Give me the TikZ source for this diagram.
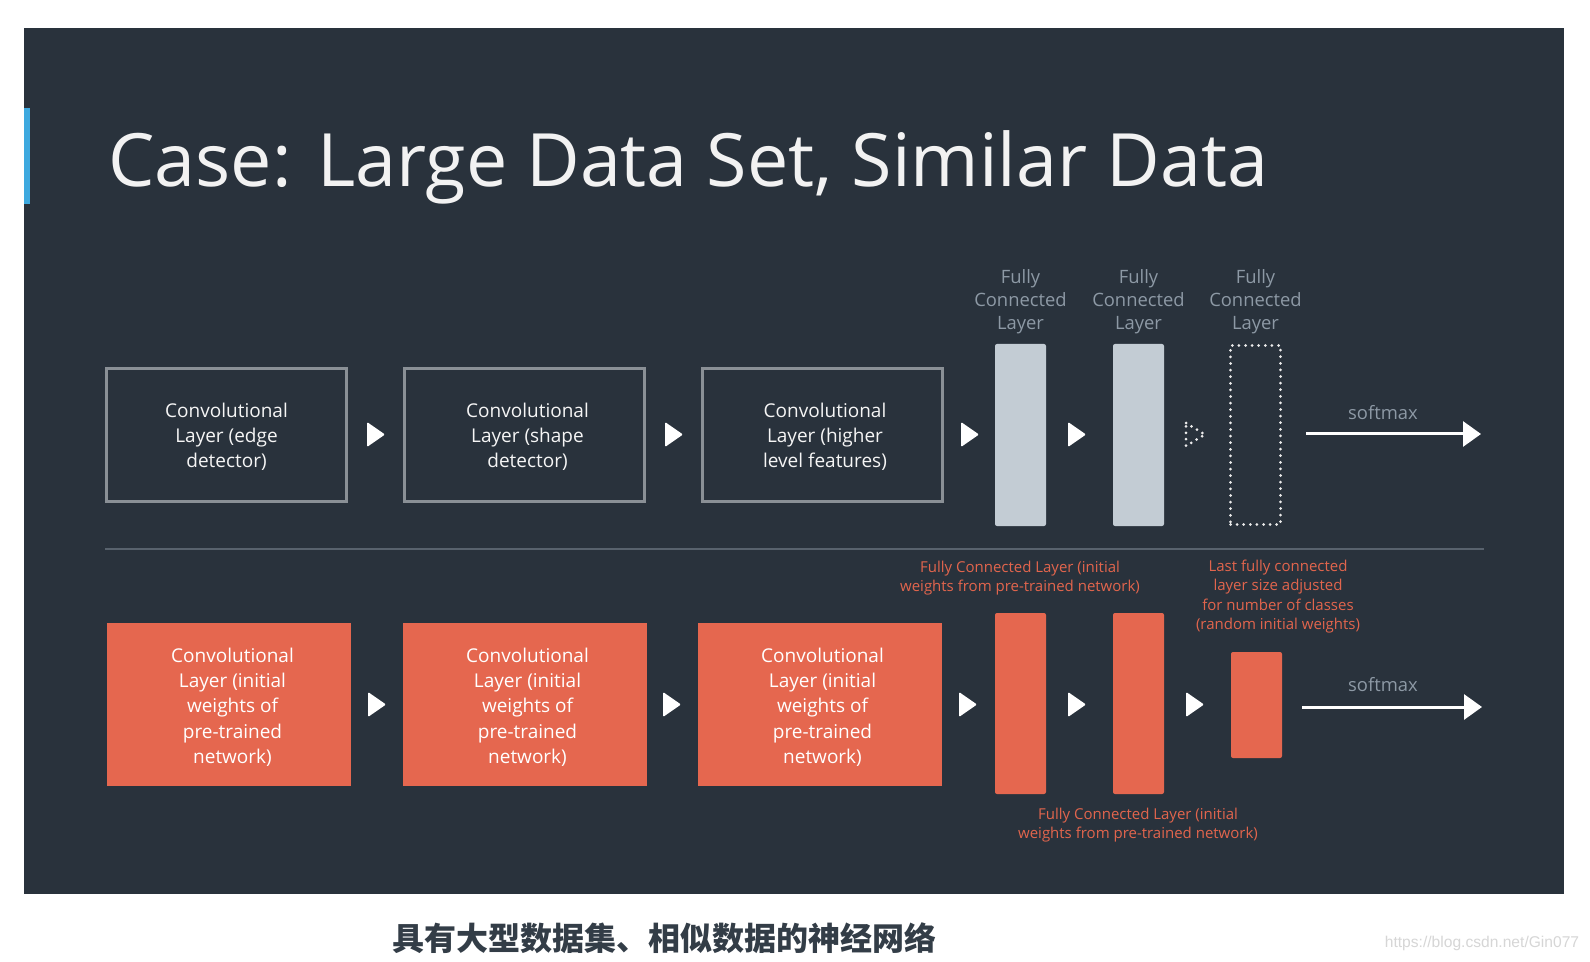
\documentclass[tikz,border=0pt]{standalone}
\usepackage{fontspec}
\setmainfont{Open Sans}
\newfontfamily\cjk{Noto Sans CJK SC}
\newfontfamily\wmfont{Liberation Sans}
\usetikzlibrary{arrows.meta}
\definecolor{panel}{HTML}{29323C}
\definecolor{boxline}{HTML}{8A9096}
\definecolor{fcgray}{HTML}{C3CCD4}
\definecolor{lblgray}{HTML}{8D99A5}
\definecolor{org}{HTML}{E5674F}
\definecolor{orgtxt}{HTML}{E2654D}
\definecolor{sepline}{HTML}{58626D}
\definecolor{accentblue}{HTML}{3DA9DF}
\definecolor{captxt}{HTML}{333D47}
\definecolor{wmtxt}{HTML}{D6D6D6}
\definecolor{titletxt}{HTML}{F2F2F2}
\tikzset{
  convtop/.style={draw=boxline, line width=1.5pt, minimum width=120pt, minimum height=66.5pt, inner sep=0pt},
  convtoptxt/.style={align=center, text=white!92!gray, font=\fontsize{9.5}{12.5}\selectfont, inner sep=0pt},
  convbot/.style={fill=org, minimum width=122pt, minimum height=81.5pt, inner sep=0pt},
  convbottxt/.style={align=center, text=white, font=\fontsize{9.5}{12.65}\selectfont, inner sep=0pt},
  fctop/.style={fill=fcgray, rounded corners=1pt, minimum width=25.5pt, minimum height=91pt, inner sep=0pt},
  fcbot/.style={fill=org, rounded corners=1pt, minimum width=25.5pt, minimum height=90.5pt, inner sep=0pt},
  fcdot/.style={draw=white!85!gray, line width=1.5pt, line cap=round, dash pattern=on 0pt off 3.3pt,
    minimum width=25pt, minimum height=89.5pt, inner sep=0pt},
  fclbl/.style={align=center, text=lblgray, font=\fontsize{9.2}{11.5}\selectfont, inner sep=0pt},
  orglbl/.style={align=center, text=orgtxt, font=\fontsize{7.5}{9.7}\selectfont, inner sep=0pt},
  smlbl/.style={text=lblgray, font=\fontsize{9.2}{11}\selectfont, inner sep=0pt},
  smarrow/.style={white, line width=1.5pt, -{Triangle[length=9pt,width=12.5pt]}},
  tri/.style={fill=white, rounded corners=0.6pt},
}
\begin{document}
\begin{tikzpicture}[x=0.5pt,y=-0.5pt]
\useasboundingbox (0,0) rectangle (1590,962);
\fill[white] (0,0) rectangle (1590,962);
\fill[panel] (24,28) rectangle (1564,894);
\fill[accentblue] (24,108) rectangle (30,204);

% title
\node[anchor=base west, inner sep=0pt, text=titletxt, font=\fontsize{36.8}{44}\selectfont] (title) at (108,187) {Case: Large Data Set, Similar Data};

% top row
\node[convtop] (c1) at (226.5,435) {};
\node[convtop] (c2) at (524.5,435) {};
\node[convtop] (c3) at (822,435) {};
\node[convtoptxt] (c1t) at (226.5,437) {Convolutional\\Layer (edge\\detector)};
\node[convtoptxt] (c2t) at (527.5,437) {Convolutional\\Layer (shape\\detector)};
\node[convtoptxt] (c3t) at (825,437) {Convolutional\\Layer (higher\\level features)};
\node[fctop] (f1) at (1020.5,435) {};
\node[fctop] (f2) at (1138.5,435) {};
\node[fcdot] (f3) at (1255.5,435) {};
\node[fclbl, anchor=south] (l1) at (1020.5,334) {Fully\\Connected\\Layer};
\node[fclbl, anchor=south] (l2) at (1138.5,334) {Fully\\Connected\\Layer};
\node[fclbl, anchor=south] (l3) at (1255.5,334) {Fully\\Connected\\Layer};

\fill[tri] (367,422) -- (385,434.5) -- (367,447) -- cycle;
\fill[tri] (665,422) -- (683,434.5) -- (665,447) -- cycle;
\fill[tri] (961,422) -- (979,434.5) -- (961,447) -- cycle;
\fill[tri] (1068,422) -- (1086,434.5) -- (1068,447) -- cycle;
\draw[white!85!gray, line width=1.5pt, line cap=round, dash pattern=on 0pt off 3.2pt]
  (1186,423) -- (1205,434.5) -- (1186,446) -- cycle;

\coordinate (s1a) at (1306,434);
\coordinate (s1b) at (1481,434);
\draw[smarrow] (s1a) -- (s1b);
\node[smlbl] (sm1) at (1383,413) {softmax};

% separator
\coordinate (sepa) at (105,549);
\coordinate (sepb) at (1484,549);
\draw[sepline, line width=1pt] (sepa) -- (sepb);

% bottom row
\node[convbot] (d1) at (228.5,704.5) {};
\node[convbot] (d2) at (524.5,704.5) {};
\node[convbot] (d3) at (819.5,704.5) {};
\node[convbottxt] (d1t) at (232.5,707) {Convolutional\\Layer (initial\\weights of\\pre-trained\\network)};
\node[convbottxt] (d2t) at (527.5,707) {Convolutional\\Layer (initial\\weights of\\pre-trained\\network)};
\node[convbottxt] (d3t) at (822.5,707) {Convolutional\\Layer (initial\\weights of\\pre-trained\\network)};
\node[fcbot] (g1) at (1020.5,703.5) {};
\node[fcbot] (g2) at (1138.5,703.5) {};
\node[fcbot, minimum height=53pt] (g3) at (1256.5,705) {};

\fill[tri] (368,692) -- (386,704.5) -- (368,717) -- cycle;
\fill[tri] (663,692) -- (681,704.5) -- (663,717) -- cycle;
\fill[tri] (959,692) -- (977,704.5) -- (959,717) -- cycle;
\fill[tri] (1068,692) -- (1086,704.5) -- (1068,717) -- cycle;
\fill[tri] (1186,692) -- (1204,704.5) -- (1186,717) -- cycle;

\coordinate (s2a) at (1302,707);
\coordinate (s2b) at (1482,707);
\draw[smarrow] (s2a) -- (s2b);
\node[smlbl] (sm2) at (1383,685) {softmax};

\node[orglbl] (o1) at (1020,578) {Fully Connected Layer (initial\\weights from pre-trained network)};
\node[orglbl] (o2) at (1278,596.5) {Last fully connected\\layer size adjusted\\for number of classes\\(random initial weights)};
\node[orglbl] (o3) at (1138,825) {Fully Connected Layer (initial\\weights from pre-trained network)};

% caption
\node[text=captxt, font=\cjk\bfseries\fontsize{16}{18}\selectfont, inner sep=0pt] (cap) at (664,938) {具有大型数据集、相似数据的神经网络};
\node[text=wmtxt, font=\wmfont\fontsize{7.8}{9}\selectfont, inner sep=0pt] (wm) at (1482,943) {https://blog.csdn.net/Gin077};
\end{tikzpicture}
\end{document}
